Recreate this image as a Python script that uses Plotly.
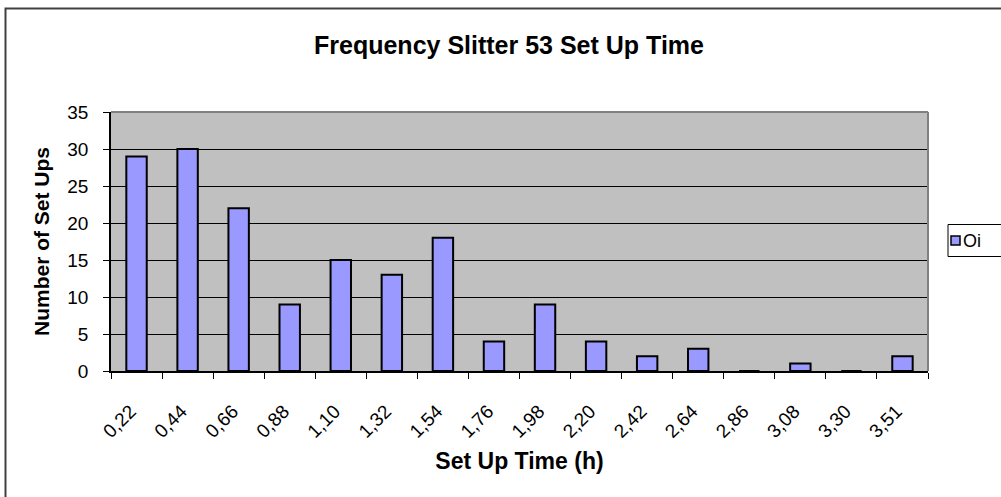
import plotly.graph_objects as go

# Set up time histogram for slitter 53
bins = ["0,22", "0,44", "0,66", "0,88", "1,10", "1,32", "1,54", "1,76",
        "1,98", "2,20", "2,42", "2,64", "2,86", "3,08", "3,30", "3,51"]
counts = [29, 30, 22, 9, 15, 13, 18, 4, 9, 4, 2, 3, 0, 1, 0, 2]
series_name = "Oi"
y_ticks = [0, 5, 10, 15, 20, 25, 30, 35]

W, H = 1001, 497
L, R, T, B = 111, 928, 112, 371  # plot area in pixels
pw, ph = R - L, B - T


def px(x):
    return (x - L) / pw


def py(y):
    return (B - y) / ph


bar_color = "#9999FF"
font = "Liberation Sans, Arial, sans-serif"

fig = go.Figure()
fig.add_trace(go.Bar(
    x=bins, y=counts, name=series_name,
    marker=dict(color=bar_color, line=dict(color="black", width=2)),
    showlegend=False,
))

fig.update_layout(
    width=W, height=H,
    margin=dict(l=L, r=W - R, t=T, b=H - B, pad=0),
    paper_bgcolor="white",
    plot_bgcolor="#C0C0C0",
    bargap=0.6,
    font=dict(family=font, size=18, color="black"),
    title=dict(text="<b>Frequency Slitter 53 Set Up Time</b>",
               x=px(509), xref="paper", xanchor="center",
               y=1 - 45 / H, yanchor="middle",
               font=dict(size=25, family=font)),
    xaxis=dict(
        type="category", tickson="boundaries", ticks="outside", ticklen=6,
        tickcolor="black", tickwidth=1, showline=True, linecolor="black",
        linewidth=1.5, showgrid=False, tickangle=-45,
        ticklabelstandoff=20, ticklabelshift=-6,
        tickfont=dict(size=19, family=font),
        title=dict(text="<b>Set Up Time (h)</b>", standoff=12,
                   font=dict(size=23, family=font)),
    ),
    yaxis=dict(
        range=[0, 35], tickvals=y_ticks, ticks="outside", ticklen=6,
        tickcolor="black", tickwidth=1, showline=True, linecolor="black",
        linewidth=1.5, showgrid=True, gridcolor="black", gridwidth=1,
        zeroline=False, ticklabelstandoff=11,
        tickfont=dict(size=19, family=font),
        title=dict(text="<b>Number of Set Ups</b>", standoff=12,
                   font=dict(size=21, family=font)),
    ),
)

# Gray frame on the top and right edges of the plot area
fig.add_shape(type="line", xref="paper", yref="paper", x0=0, x1=1, y0=1, y1=1,
              line=dict(color="#808080", width=2))
fig.add_shape(type="line", xref="paper", yref="paper", x0=1, x1=1, y0=0, y1=1,
              line=dict(color="#808080", width=2))

# Chart area border
fig.add_shape(type="rect", xref="paper", yref="paper",
              x0=px(5.5), x1=px(1010), y0=py(8.5), y1=py(510),
              line=dict(color="#404040", width=2), layer="below")

# Legend box with the series key
fig.add_shape(type="rect", xref="paper", yref="paper",
              x0=px(948), x1=px(1010), y0=py(224.5), y1=py(256.5),
              line=dict(color="black", width=1), fillcolor="white")
fig.add_shape(type="rect", xref="paper", yref="paper",
              x0=px(951), x1=px(960), y0=py(236), y1=py(245),
              line=dict(color="black", width=1.5), fillcolor=bar_color)
fig.add_annotation(text=series_name, xref="paper", yref="paper",
                   x=px(961), y=py(240.5), xanchor="left", yanchor="middle",
                   showarrow=False, font=dict(size=18, family=font))

fig.write_html("out.html")
